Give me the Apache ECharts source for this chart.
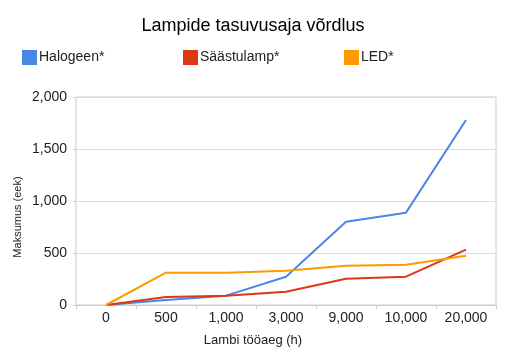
<!DOCTYPE html>
<html><head><meta charset="utf-8">
<script src="https://cdn.jsdelivr.net/npm/echarts@6/dist/echarts.min.js"></script>
<style>html,body{margin:0;padding:0;background:#fff}#c{width:506px;height:359px}</style>
</head><body><div id="c"></div>
<script>
var categories = ['0', '500', '1,000', '3,000', '9,000', '10,000', '20,000'];
var halogeen = [0, 48, 90, 272, 801, 888, 1779];
var saastulamp = [0, 77, 90, 128, 253, 272, 532];
var led = [0, 311, 311, 330, 378, 388, 474];
var seriesNames = ['Halogeen*', 'Säästulamp*', 'LED*'];
var colors = ['#4a86e8', '#dc3912', '#ff9900'];
var FONT = 'Liberation Sans, Arial, sans-serif';

var chart = echarts.init(document.getElementById('c'), null, {renderer: 'canvas'});
function legend(i, left) {
  return {
    data: [seriesNames[i]], left: left, top: 50, itemWidth: 15, itemHeight: 15, icon: 'rect',
    itemGap: 0, padding: 0, textStyle: {fontFamily: FONT, fontSize: 14, color: '#222', padding: [0, 0, 0, -3]}
  };
}
chart.setOption({
  animation: false,
  color: colors,
  title: {text: 'Lampide tasuvusaja võrdlus', left: 'center', top: 12,
    textStyle: {fontFamily: FONT, fontSize: 18, fontWeight: 'normal', color: '#000'}},
  legend: [legend(0, 22), legend(1, 183), legend(2, 344)],
  grid: {left: 76, right: 10, top: 97, bottom: 54, show: true, borderColor: '#ccc', borderWidth: 1},
  xAxis: {
    type: 'category', data: categories, boundaryGap: true,
    axisLine: {lineStyle: {color: '#ccc', width: 1}},
    axisTick: {show: true, length: 4, lineStyle: {color: '#ccc'}},
    axisLabel: {fontFamily: FONT, fontSize: 14, color: '#222', margin: 6}
  },
  yAxis: {
    type: 'value', min: 0, max: 2000, interval: 500,
    axisLine: {show: false},
    axisTick: {show: true, length: 3, lineStyle: {color: '#ccc'}},
    splitLine: {lineStyle: {color: '#ddd', width: 1}},
    axisLabel: {fontFamily: FONT, fontSize: 14, color: '#222', margin: 9,
      formatter: function (v) { return v.toLocaleString('en-US'); }}
  },
  graphic: [
    {type: 'text', left: 'center', top: 334, style: {text: 'Lambi tööaeg (h)', font: '13px ' + FONT, fill: '#222'}},
    {type: 'text', x: 18, y: 217, rotation: Math.PI / 2, style: {text: 'Maksumus (eek)', font: '11px ' + FONT, fill: '#222', align: 'center', verticalAlign: 'middle'}, originX: 0, originY: 0}
  ],
  series: [
    {name: seriesNames[0], type: 'line', data: halogeen, showSymbol: false, lineStyle: {width: 2}},
    {name: seriesNames[1], type: 'line', data: saastulamp, showSymbol: false, lineStyle: {width: 2}},
    {name: seriesNames[2], type: 'line', data: led, showSymbol: false, lineStyle: {width: 2}}
  ]
});
</script></body></html>
